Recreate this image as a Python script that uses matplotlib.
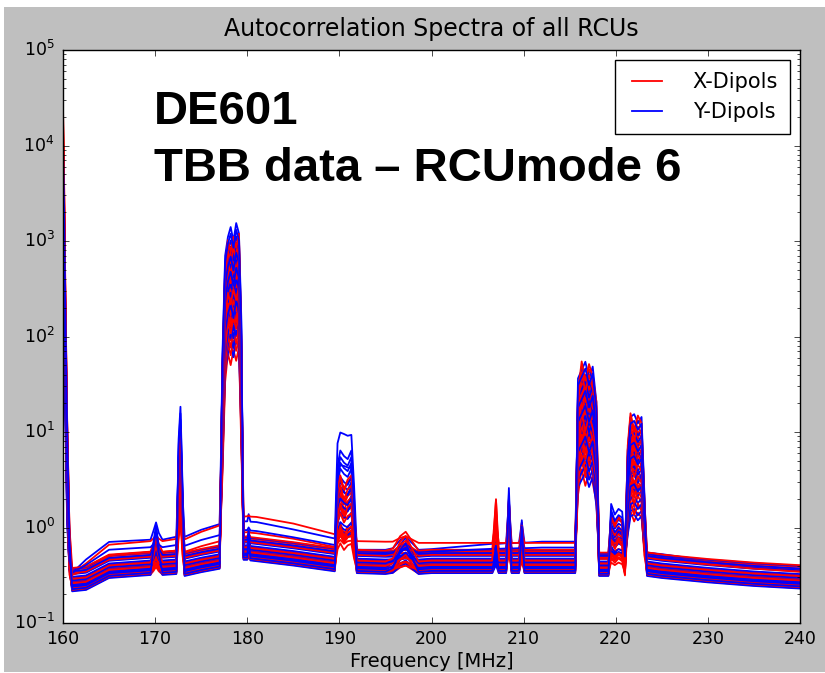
import numpy as np
import matplotlib
matplotlib.use('Agg')
import matplotlib.pyplot as plt
from matplotlib.patches import Rectangle
from matplotlib.ticker import NullFormatter

# frequency breakpoints [MHz] and spectral components
freq = [160.0, 160.12, 160.25, 160.45, 160.7, 161.0, 162.5, 165.0, 169.5, 169.8,
        170.1, 170.4, 170.8, 172.3, 172.55, 172.75, 172.95, 173.2, 175.0, 177.0,
        177.3, 177.6, 177.9, 178.2, 178.5, 178.8, 179.1, 179.35, 179.6, 180.0,
        180.15, 180.35, 181.0, 185.0, 189.5, 189.8, 190.1, 190.5, 190.9, 191.3,
        191.6, 191.9, 195.0, 195.8, 196.6, 197.2, 198.6, 200.0, 206.6, 207.0,
        207.3, 208.1, 208.4, 208.7, 209.5, 209.8, 210.1, 212.0, 215.6, 215.9,
        216.3, 216.7, 217.1, 217.5, 217.9, 218.2, 219.2, 219.5, 219.9, 220.3,
        220.7, 221.0, 221.3, 221.6, 222.0, 222.4, 222.8, 223.1, 223.4, 225.0,
        230.0, 235.0, 240.0]

# typical noise floor
floor = [0.42, 0.40, 0.37, 0.34, 0.31, 0.29, 0.30, 0.40, 0.43, 0.43,
         0.43, 0.43, 0.43, 0.44, 0.44, 0.44, 0.44, 0.42, 0.46, 0.50,
         0.52, 0.55, 0.55, 0.55, 0.55, 0.55, 0.55, 0.58, 0.62, 0.62,
         0.62, 0.61, 0.60, 0.54, 0.47, 0.47, 0.46, 0.46, 0.46, 0.45,
         0.45, 0.45, 0.44, 0.44, 0.44, 0.44, 0.44, 0.45, 0.45, 0.45,
         0.45, 0.45, 0.45, 0.45, 0.45, 0.45, 0.45, 0.45, 0.45, 0.45,
         0.45, 0.45, 0.44, 0.44, 0.43, 0.42, 0.42, 0.42, 0.42, 0.42,
         0.42, 0.42, 0.42, 0.42, 0.42, 0.42, 0.42, 0.42, 0.42, 0.40,
         0.36, 0.33, 0.31]

# extra floor of the elevated (outlier) RCUs
excess_x = [0.04, 0.04, 0.04, 0.04, 0.04, 0.04, 0.12, 0.26, 0.29, 0.29,
            0.29, 0.29, 0.29, 0.32, 0.32, 0.32, 0.32, 0.33, 0.44, 0.55,
            0.57, 0.60, 0.60, 0.60, 0.60, 0.60, 0.60, 0.65, 0.68, 0.69,
            0.69, 0.69, 0.69, 0.56, 0.38, 0.36, 0.33, 0.30, 0.29, 0.28,
            0.27, 0.27, 0.27, 0.26, 0.25, 0.25, 0.25, 0.24, 0.24, 0.24,
            0.24, 0.24, 0.24, 0.24, 0.24, 0.24, 0.24, 0.24, 0.24, 0.20,
            0.18, 0.16, 0.14, 0.12, 0.10, 0.08, 0.08, 0.08, 0.08, 0.08,
            0.08, 0.10, 0.12, 0.12, 0.12, 0.12, 0.12, 0.13, 0.13, 0.12,
            0.09, 0.07, 0.05]
excess_y = [0.05, 0.05, 0.05, 0.05, 0.05, 0.05, 0.18, 0.34, 0.35, 0.35,
            0.35, 0.35, 0.35, 0.40, 0.40, 0.40, 0.40, 0.42, 0.54, 0.65,
            0.65, 0.62, 0.62, 0.62, 0.62, 0.62, 0.62, 0.61, 0.60, 0.60,
            0.60, 0.60, 0.60, 0.46, 0.33, 5.5, 6.8, 6.9, 6.7, 6.2,
            1.5, 0.15, 0.16, 0.16, 0.16, 0.16, 0.16, 0.16, 0.25, 0.25,
            0.25, 0.26, 0.26, 0.26, 0.27, 0.27, 0.27, 0.29, 0.29, 0.25,
            0.22, 0.20, 0.18, 0.16, 0.14, 0.13, 0.13, 0.13, 0.13, 0.13,
            0.13, 0.13, 0.14, 0.14, 0.14, 0.14, 0.14, 0.14, 0.14, 0.14,
            0.10, 0.07, 0.06]

# RFI lines / bands
rfi_x = [15000, 2500, 200, 8, 0.4, 0, 0, 0, 0, 0.08,
         0.2, 0.08, 0, 0, 2.5, 6, 1.0, 0, 0, 0,
         25, 300, 600, 450, 650, 500, 700, 60, 0, 0,
         0.05, 0, 0, 0, 0, 1.2, 1.8, 1.2, 1.6, 1.8,
         0.6, 0, 0, 0.02, 0.16, 0.22, 0, 0, 0, 0.9,
         0, 0, 0.9, 0, 0, 0.35, 0, 0, 0, 15,
         32, 20, 30, 22, 12, 0, 0, 0.5, 0.35, 0.5,
         0.4, 0, 4, 9, 6, 8.5, 7, 1, 0, 0,
         0, 0, 0]
rfi_y = [6000, 1200, 120, 6, 0.3, 0, 0, 0, 0, 0.15,
         0.35, 0.12, 0, 0, 4, 9, 1.5, 0, 0, 0,
         30, 350, 550, 700, 500, 770, 600, 80, 0, 0,
         0.2, 0, 0, 0, 0, 2.0, 3.0, 2.6, 2.4, 3.0,
         0.8, 0, 0, 0.02, 0.14, 0.2, 0, 0, 0, 0.15,
         0, 0, 1.1, 0, 0, 0.4, 0, 0, 0, 18,
         22, 27, 18, 24, 10, 0, 0, 0.7, 0.5, 0.6,
         0.55, 0.1, 3, 7, 7.5, 6, 7, 1, 0, 0,
         0, 0, 0]

# per-RCU gains (X = red, Y = blue)
x_floor_gain = [1.18, 0.78, 1.02, 0.86, 1.25, 0.92, 0.75, 1.0, 0.97, 0.82,
                1.3, 0.88, 1.05, 0.8, 1.15, 0.95, 0.77, 1.2, 0.9, 1.0]
x_excess = [0, 0, 0, 0, 0, 0, 0, 1.0, 0, 0,
            0, 0, 0.35, 0, 0, 0, 0, 0, 0, 0]
x_rfi_gain = [0.11, 0.42, 0.2, 0.7, 0.14, 1.15, 0.32, 0.55, 0.9, 0.17,
              1.5, 0.24, 0.62, 0.37, 1.0, 0.28, 0.8, 0.48, 1.3, 1.7]
y_floor_gain = [0.8, 1.12, 0.76, 0.98, 1.0, 0.85, 1.05, 0.74, 1.28, 0.9,
                1.0, 0.79, 1.16, 0.87, 0.94, 1.08, 0.83, 1.2, 0.96, 0.78]
y_excess = [0, 0, 0, 0, 0.9, 0, 0, 0, 0, 0,
            0, 0, 0, 0, 0, 0.45, 0, 0, 0, 0]
y_rfi_gain = [0.36, 0.12, 0.6, 0.23, 1.1, 0.87, 0.15, 0.47, 0.27, 1.45,
              0.19, 0.77, 0.41, 2.0, 0.53, 0.31, 1.25, 0.68, 0.98, 1.7]

assert len(freq) == len(floor) == len(excess_x) == len(excess_y) == len(rfi_x) == len(rfi_y)

plt.style.use('classic')
plt.rcParams['axes.unicode_minus'] = False

freq = np.array(freq)
floor = np.array(floor)
excess_x, excess_y = np.array(excess_x), np.array(excess_y)
rfi_x, rfi_y = np.array(rfi_x, dtype=float), np.array(rfi_y, dtype=float)

fig = plt.figure(figsize=(8.25, 6.73), dpi=100, facecolor='white')
fig.patches.append(Rectangle((4/825, 1/673), 821/825, 665/673, transform=fig.transFigure,
                             facecolor='#bfbfbf', edgecolor='none', zorder=-10))
ax = fig.add_axes([63/825, 50/673, 737/825, 573/673])

for i in range(len(x_rfi_gain)):
    spec_x = floor*x_floor_gain[i] + excess_x*x_excess[i] + rfi_x*x_rfi_gain[i]
    spec_y = floor*y_floor_gain[i] + excess_y*y_excess[i] + rfi_y*y_rfi_gain[i]
    ax.plot(freq, spec_x, color='r', lw=1.3, label='X-Dipols' if i == 0 else None)
    ax.plot(freq, spec_y, color='b', lw=1.3, label='Y-Dipols' if i == 0 else None)

ax.set_yscale('log')
ax.set_xlim(160, 240)
ax.set_ylim(0.1, 1e5)
ax.set_xticks(np.arange(160, 241, 10))
ax.yaxis.set_minor_formatter(NullFormatter())
ax.tick_params(axis='both', which='major', labelsize=12.5)
ax.tick_params(axis='x', pad=5)
ax.tick_params(axis='y', pad=6)
ax.set_title('Autocorrelation Spectra of all RCUs', fontsize=17, pad=10)
ax.set_xlabel('Frequency [MHz]', fontsize=14, labelpad=3)
ax.legend(loc='upper right', fontsize=15, borderaxespad=0.5,
          borderpad=0.55, handletextpad=1.2)

fig.text(154/825, 1 - 124/673, 'DE601', fontsize=34, fontweight='bold',
         family='Liberation Sans', va='baseline')
fig.text(154/825, 1 - 181/673, 'TBB data \u2013 RCUmode 6', fontsize=34, fontweight='bold',
         family='Liberation Sans', va='baseline')

fig.savefig('out.png', dpi=100, facecolor='white')
